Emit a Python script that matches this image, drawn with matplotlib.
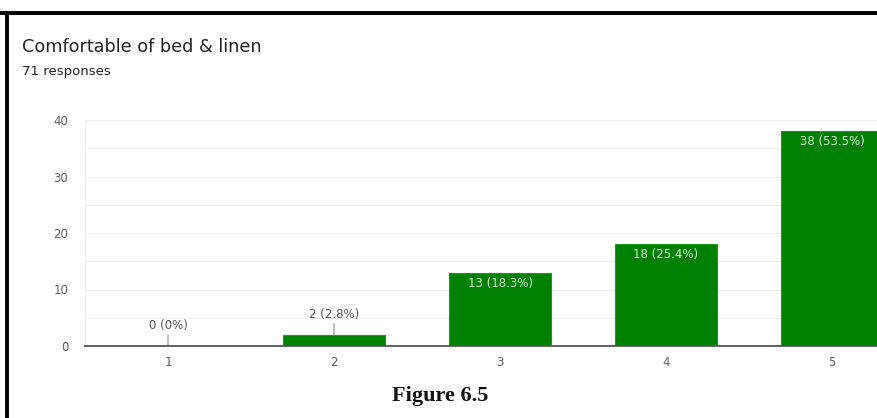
import matplotlib
matplotlib.use("Agg")
import matplotlib.pyplot as plt
from matplotlib.lines import Line2D

categories = ["1", "2", "3", "4", "5"]
counts = [0, 2, 13, 18, 38]
labels = ["0 (0%)", "2 (2.8%)", "13 (18.3%)", "18 (25.4%)", "38 (53.5%)"]
title = "Comfortable of bed & linen"
subtitle = "71 responses"
caption = "Figure 6.5"
yticks = [0, 10, 20, 30, 40]

plt.rcParams['font.family'] = ['DejaVu Sans']

W, H = 878, 418
fig = plt.figure(figsize=(W / 100, H / 100), dpi=100)
fig.patch.set_facecolor("white")

ax = fig.add_axes([85 / W, 1 - 346 / H, 830 / W, 226 / H])
x = list(range(1, len(categories) + 1))
ax.bar(x, counts, width=0.62, color="#008000", edgecolor="#1a9a1a", linewidth=0.8, zorder=3)

ax.set_xlim(0.5, 5.5)
ax.set_ylim(0, 40)
ax.set_yticks(yticks)
ax.set_yticks([5, 15, 25, 35], minor=True)
ax.set_xticks(x)
ax.set_xticklabels(categories)
ax.tick_params(axis="both", length=0, colors="#606060", labelsize=8.5)
ax.tick_params(axis="y", which="minor", length=0)
ax.tick_params(axis="y", pad=12)
ax.tick_params(axis="x", pad=7)
ax.grid(axis="y", which="both", color="#eeeeee", linewidth=0.8, zorder=0)
for s in ["top", "right"]:
    ax.spines[s].set_visible(False)
ax.spines["left"].set_color("#eeeeee")
ax.spines["left"].set_linewidth(0.8)
ax.spines["bottom"].set_color("#555555")
ax.spines["bottom"].set_linewidth(1.3)
ax.spines["bottom"].set_zorder(4)

for xi, c, lab in zip(x, counts, labels):
    if c < 5:
        ax.annotate(lab, xy=(xi, c), xytext=(0, 10), textcoords="offset points",
                    ha="center", va="bottom", fontsize=8.5, color="#555555",
                    arrowprops=dict(arrowstyle="-", color="#999999", lw=0.9,
                                    shrinkA=0, shrinkB=0))
    else:
        ax.annotate(lab, xy=(xi, c), xytext=(0, -3), textcoords="offset points",
                    ha="center", va="top", fontsize=8.5, color="#d8f5d8", zorder=5)

fig.text(22 / W, 1 - 47 / H, title, fontsize=12.7, color="#222222", va="center", ha="left")
fig.text(22 / W, 1 - 72 / H, subtitle, fontsize=9.5, color="#222222", va="center", ha="left")
fig.text(440 / W, 1 - 396 / H, caption, fontsize=16, fontweight="bold",
         family=["Liberation Serif", "DejaVu Serif"], color="#111111", ha="center", va="center")

# frame border lines (top and left)
fig.add_artist(Line2D([0, 1], [1 - 12.5 / H, 1 - 12.5 / H], transform=fig.transFigure,
                      color="black", linewidth=2.8))
fig.add_artist(Line2D([7.5 / W, 7.5 / W], [0, 1 - 12.5 / H], transform=fig.transFigure,
                      color="black", linewidth=2.8))

fig.savefig("out.png", dpi=100)
